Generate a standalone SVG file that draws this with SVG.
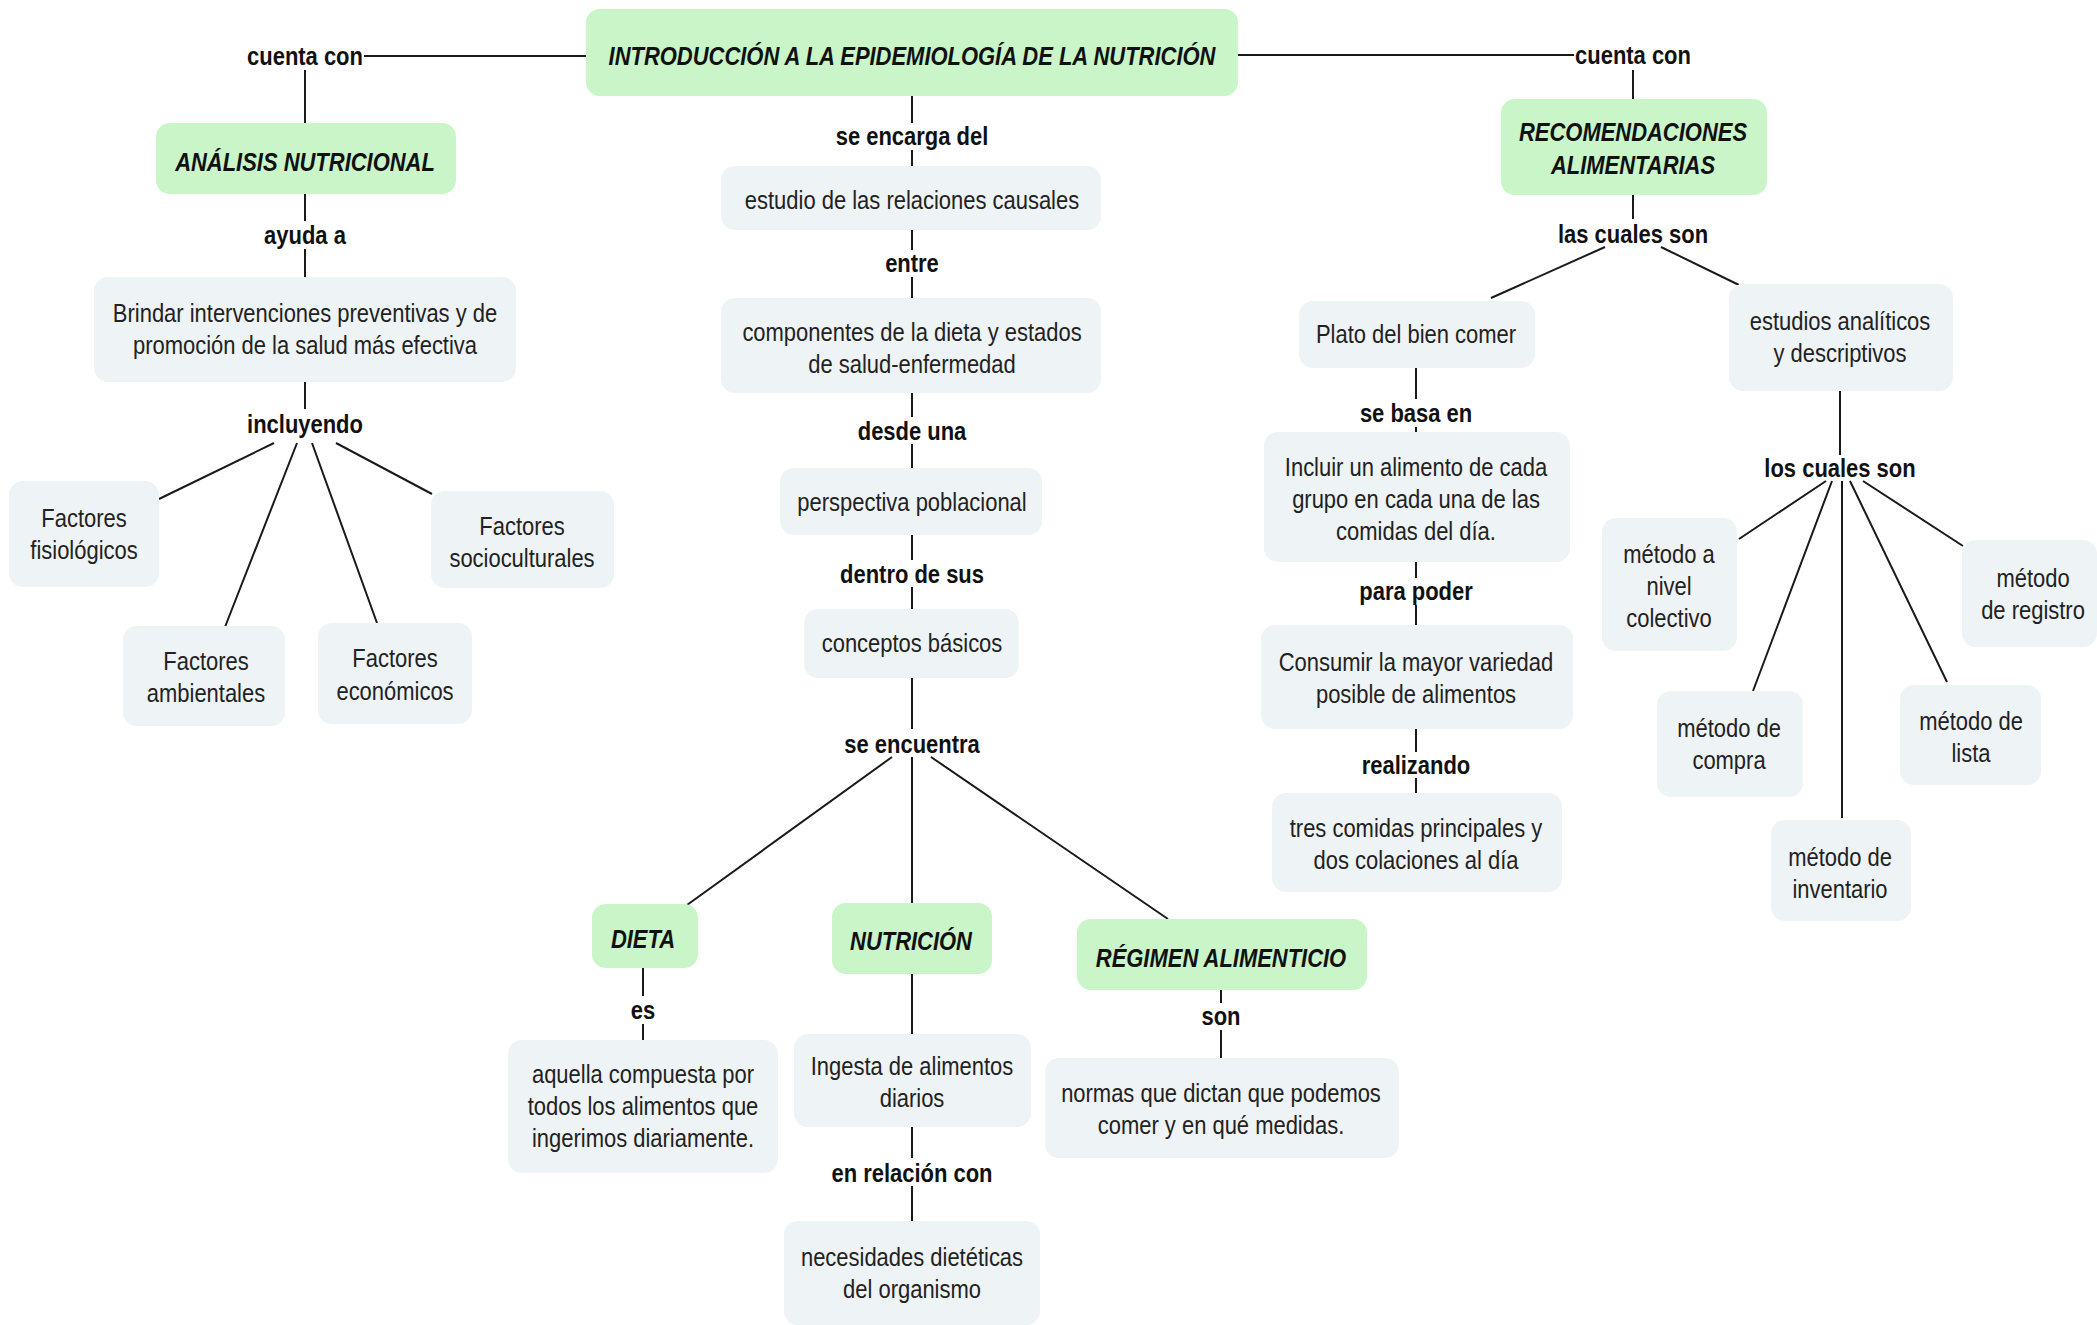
<svg xmlns="http://www.w3.org/2000/svg" width="2097" height="1325" viewBox="0 0 2097 1325">
<defs>
<style>
text{font-family:"Liberation Sans",Arial,sans-serif;font-size:26px;text-anchor:middle;fill:#222}
.lbl{font-weight:bold;fill:#111}
.main{font-weight:bold;font-style:italic;fill:#111}
.g{fill:#c9f5c9}
.b{fill:#eef3f5}
.c path{stroke:#1a1a1a;stroke-width:2;fill:none}
</style>
</defs>
<rect width="2097" height="1325" fill="#fff"/>
<g class="c" id="connectors">
<path d="M364,56H586M1238,55H1574"/>
<path d="M305,70V123M305,194V221M305,249V277M305,382V409"/>
<path d="M274,443L159,499M297,443L225,627M312,443L377,623M336,443L432,494"/>
<path d="M912,96V123M912,150V166M912,230V250M912,277V298M912,393V417M912,444V468M912,535V560M912,587V609M912,678V729"/>
<path d="M892,757L687,905M912,757V903M931,757L1168,919"/>
<path d="M643,968V996M643,1024V1040"/>
<path d="M912,974V1034M912,1127V1158M912,1186V1221"/>
<path d="M1221,990V1003M1221,1030V1058"/>
<path d="M1633,70V99M1633,195V219M1605,247L1491,298M1661,247L1739,285"/>
<path d="M1416,368V399M1416,427V432M1416,562V578M1416,605V625M1416,729V752M1416,778V793"/>
<path d="M1840,391V455M1826,481L1739,539M1832,481L1753,691M1842,481V818M1850,481L1947,682M1863,481L1963,546"/>
</g>
<g id="labels">
<text class="lbl" transform="translate(305 0) scale(.845 1)" y="65">cuenta con</text>
<text class="lbl" transform="translate(1633 0) scale(.845 1)" y="64">cuenta con</text>
<text class="lbl" transform="translate(305 0) scale(.845 1)" y="244">ayuda a</text>
<text class="lbl" transform="translate(305 0) scale(.845 1)" y="433">incluyendo</text>
<text class="lbl" transform="translate(912 0) scale(.845 1)" y="145">se encarga del</text>
<text class="lbl" transform="translate(912 0) scale(.845 1)" y="272">entre</text>
<text class="lbl" transform="translate(912 0) scale(.845 1)" y="440">desde una</text>
<text class="lbl" transform="translate(912 0) scale(.845 1)" y="583">dentro de sus</text>
<text class="lbl" transform="translate(912 0) scale(.845 1)" y="753">se encuentra</text>
<text class="lbl" transform="translate(643 0) scale(.845 1)" y="1019">es</text>
<text class="lbl" transform="translate(912 0) scale(.845 1)" y="1182">en relación con</text>
<text class="lbl" transform="translate(1221 0) scale(.845 1)" y="1025">son</text>
<text class="lbl" transform="translate(1633 0) scale(.845 1)" y="243">las cuales son</text>
<text class="lbl" transform="translate(1416 0) scale(.845 1)" y="422">se basa en</text>
<text class="lbl" transform="translate(1416 0) scale(.845 1)" y="600">para poder</text>
<text class="lbl" transform="translate(1416 0) scale(.845 1)" y="774">realizando</text>
<text class="lbl" transform="translate(1840 0) scale(.845 1)" y="477">los cuales son</text>
</g>
<g id="n-main"><rect class="g" x="586" y="9" width="652" height="87" rx="14"/><text class="main" transform="translate(912 0) scale(.845 1)" y="65">INTRODUCCIÓN A LA EPIDEMIOLOGÍA DE LA NUTRICIÓN</text></g>
<g id="n-analisis"><rect class="g" x="156" y="123" width="300" height="71" rx="14"/><text class="main" transform="translate(305 0) scale(.845 1)" y="171">ANÁLISIS NUTRICIONAL</text></g>
<g id="n-brindar"><rect class="b" x="94" y="277" width="422" height="105" rx="14"/><text transform="translate(305 0) scale(.845 1)" y="322">Brindar intervenciones preventivas y de<tspan x="0" y="354">promoción de la salud más efectiva</tspan></text></g>
<g id="n-fisio"><rect class="b" x="9" y="481" width="150" height="106" rx="14"/><text transform="translate(84 0) scale(.845 1)" y="527">Factores<tspan x="0" y="559">fisiológicos</tspan></text></g>
<g id="n-socio"><rect class="b" x="431" y="491" width="183" height="97" rx="14"/><text transform="translate(522 0) scale(.845 1)" y="535">Factores<tspan x="0" y="567">socioculturales</tspan></text></g>
<g id="n-amb"><rect class="b" x="123" y="626" width="162" height="100" rx="14"/><text transform="translate(206 0) scale(.845 1)" y="670">Factores<tspan x="0" y="702">ambientales</tspan></text></g>
<g id="n-eco"><rect class="b" x="318" y="623" width="154" height="101" rx="14"/><text transform="translate(395 0) scale(.845 1)" y="667">Factores<tspan x="0" y="700">económicos</tspan></text></g>
<g id="n-estudio"><rect class="b" x="721" y="166" width="380" height="64" rx="14"/><text transform="translate(912 0) scale(.845 1)" y="209">estudio de las relaciones causales</text></g>
<g id="n-componentes"><rect class="b" x="721" y="298" width="380" height="95" rx="14"/><text transform="translate(912 0) scale(.845 1)" y="341">componentes de la dieta y estados<tspan x="0" y="373">de salud-enfermedad</tspan></text></g>
<g id="n-perspectiva"><rect class="b" x="780" y="468" width="262" height="67" rx="14"/><text transform="translate(912 0) scale(.845 1)" y="511">perspectiva poblacional</text></g>
<g id="n-conceptos"><rect class="b" x="804" y="609" width="215" height="69" rx="14"/><text transform="translate(912 0) scale(.845 1)" y="652">conceptos básicos</text></g>
<g id="n-dieta"><rect class="g" x="592" y="904" width="106" height="64" rx="14"/><text class="main" transform="translate(643 0) scale(.845 1)" y="948">DIETA</text></g>
<g id="n-aquella"><rect class="b" x="508" y="1040" width="270" height="133" rx="14"/><text transform="translate(643 0) scale(.845 1)" y="1083">aquella compuesta por<tspan x="0" y="1115">todos los alimentos que</tspan><tspan x="0" y="1147">ingerimos diariamente.</tspan></text></g>
<g id="n-nutricion"><rect class="g" x="832" y="903" width="160" height="71" rx="14"/><text class="main" transform="translate(911 0) scale(.845 1)" y="950">NUTRICIÓN</text></g>
<g id="n-ingesta"><rect class="b" x="794" y="1034" width="237" height="93" rx="14"/><text transform="translate(912 0) scale(.845 1)" y="1075">Ingesta de alimentos<tspan x="0" y="1107">diarios</tspan></text></g>
<g id="n-necesidades"><rect class="b" x="784" y="1221" width="256" height="104" rx="14"/><text transform="translate(912 0) scale(.845 1)" y="1266">necesidades dietéticas<tspan x="0" y="1298">del organismo</tspan></text></g>
<g id="n-regimen"><rect class="g" x="1077" y="919" width="290" height="71" rx="14"/><text class="main" transform="translate(1221 0) scale(.845 1)" y="967">RÉGIMEN ALIMENTICIO</text></g>
<g id="n-normas"><rect class="b" x="1045" y="1058" width="354" height="100" rx="14"/><text transform="translate(1221 0) scale(.845 1)" y="1102">normas que dictan que podemos<tspan x="0" y="1134">comer y en qué medidas.</tspan></text></g>
<g id="n-recomendaciones"><rect class="g" x="1501" y="99" width="266" height="96" rx="14"/><text class="main" transform="translate(1633 0) scale(.845 1)" y="141">RECOMENDACIONES<tspan x="0" y="174">ALIMENTARIAS</tspan></text></g>
<g id="n-plato"><rect class="b" x="1299" y="301" width="236" height="67" rx="14"/><text transform="translate(1416 0) scale(.845 1)" y="343">Plato del bien comer</text></g>
<g id="n-incluir"><rect class="b" x="1264" y="432" width="306" height="130" rx="14"/><text transform="translate(1416 0) scale(.845 1)" y="476">Incluir un alimento de cada<tspan x="0" y="508">grupo en cada una de las</tspan><tspan x="0" y="540">comidas del día.</tspan></text></g>
<g id="n-consumir"><rect class="b" x="1261" y="625" width="312" height="104" rx="14"/><text transform="translate(1416 0) scale(.845 1)" y="671">Consumir la mayor variedad<tspan x="0" y="703">posible de alimentos</tspan></text></g>
<g id="n-tres"><rect class="b" x="1272" y="793" width="290" height="99" rx="14"/><text transform="translate(1416 0) scale(.845 1)" y="837">tres comidas principales y<tspan x="0" y="869">dos colaciones al día</tspan></text></g>
<g id="n-estudios"><rect class="b" x="1729" y="284" width="224" height="107" rx="14"/><text transform="translate(1840 0) scale(.845 1)" y="330">estudios analíticos<tspan x="0" y="362">y descriptivos</tspan></text></g>
<g id="n-colectivo"><rect class="b" x="1602" y="518" width="135" height="133" rx="14"/><text transform="translate(1669 0) scale(.845 1)" y="563">método a<tspan x="0" y="595">nivel</tspan><tspan x="0" y="627">colectivo</tspan></text></g>
<g id="n-registro"><rect class="b" x="1962" y="540" width="135" height="107" rx="14"/><text transform="translate(2033 0) scale(.845 1)" y="587">método<tspan x="0" y="619">de registro</tspan></text></g>
<g id="n-compra"><rect class="b" x="1657" y="691" width="146" height="106" rx="14"/><text transform="translate(1729 0) scale(.845 1)" y="737">método de<tspan x="0" y="769">compra</tspan></text></g>
<g id="n-lista"><rect class="b" x="1900" y="685" width="141" height="100" rx="14"/><text transform="translate(1971 0) scale(.845 1)" y="730">método de<tspan x="0" y="762">lista</tspan></text></g>
<g id="n-inventario"><rect class="b" x="1771" y="820" width="140" height="101" rx="14"/><text transform="translate(1840 0) scale(.845 1)" y="866">método de<tspan x="0" y="898">inventario</tspan></text></g>
</svg>
